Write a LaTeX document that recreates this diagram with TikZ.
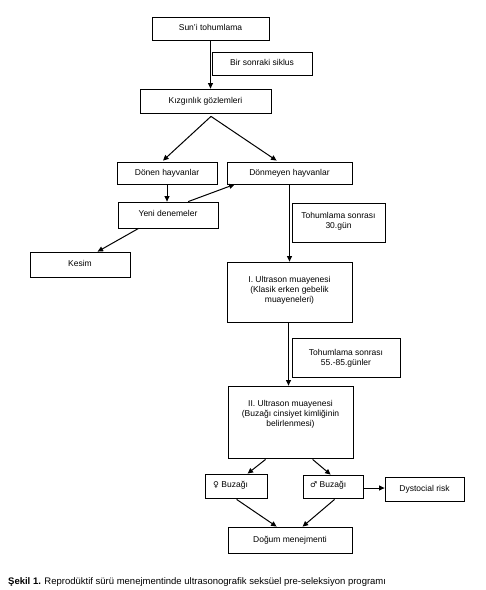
\documentclass[tikz,border=0pt]{standalone}
\usepackage{fontspec}
\setmainfont{Liberation Sans}
\newfontfamily\symfont{DejaVu Sans}
\usetikzlibrary{arrows.meta,calc}
\begin{document}
\begin{tikzpicture}[x=1pt,y=-1pt,
  box/.style={draw=black,line width=0.8pt,inner sep=0pt,align=center,font=\fontsize{8.5}{10}\selectfont},
  txt/.style={inner sep=0pt,align=center,font=\fontsize{8.5}{10}\selectfont},
  arr/.style={line width=1pt,-{Triangle[length=5.5pt,width=5pt]}}]
\fill[white] (0,0) rectangle (486,590);
\useasboundingbox (0,0) rectangle (486,590);
% boxes
\node[box,minimum width=117pt,minimum height=23pt] (sun) at (210.5,28.5) {\raisebox{2pt}{Sun'i tohumlama}};
\node[box,minimum width=100pt,minimum height=23pt] (bir) at (262,63.5) {\raisebox{1.5pt}{Bir sonraki siklus}};
\node[box,minimum width=131pt,minimum height=24pt] (kiz) at (205.5,101) {\raisebox{1.5pt}{Kızgınlık gözlemleri}};
\node[box,minimum width=100pt,minimum height=22pt] (donen) at (167,173) {\raisebox{1pt}{Dönen hayvanlar}};
\node[box,minimum width=125pt,minimum height=22pt] (donmeyen) at (289.5,173) {\raisebox{1pt}{Dönmeyen hayvanlar}};
\node[box,minimum width=100pt,minimum height=26pt] (yeni) at (168,215) {\raisebox{3pt}{Yeni denemeler}};
\node[box,minimum width=100pt,minimum height=25pt] (kesim) at (80,264.5) {\raisebox{2pt}{Kesim}};
\node[box,minimum width=93pt,minimum height=39pt] (t30) at (338.5,222.5) {};
\node[txt] (t30t) at (338.5,221) {Tohumlama sonrası\\30.gün};
\node[box,minimum width=125pt,minimum height=60pt] (us1) at (289.5,292) {};
\node[txt] (us1t) at (289.5,290) {I. Ultrason muayenesi\\(Klasik erken gebelik\\muayeneleri)};
\node[box,minimum width=108pt,minimum height=39pt] (t55) at (346,357.5) {};
\node[txt] (t55t) at (346,358) {Tohumlama sonrası\\55.-85.günler};
\node[box,minimum width=125pt,minimum height=72pt] (us2) at (290.5,422) {};
\node[txt] (us2t) at (290.5,414) {II. Ultrason muayenesi\\(Buzağı cinsiyet kimliğinin\\belirlenmesi)};
\node[box,minimum width=62pt,minimum height=24pt] (fem) at (236,486) {};
\node[txt,anchor=west] (femt) at (213,485.5) {{\symfont\fontsize{8}{10}\selectfont ♀} Buzağı};
\node[box,minimum width=60pt,minimum height=23pt] (male) at (333,486.5) {};
\node[txt,anchor=west] (malet) at (310,485.5) {{\symfont\fontsize{8}{10}\selectfont ♂} Buzağı};
\node[box,minimum width=79pt,minimum height=24pt] (dys) at (424.5,489) {\raisebox{2pt}{Dystocial risk}};
\node[box,minimum width=124pt,minimum height=26pt] (dogum) at (290,540) {\raisebox{2pt}{Doğum menejmenti}};
% caption
\node[inner sep=0pt,anchor=base west,font=\fontsize{9.5}{11}\selectfont] (cap) at (8,584) {\textbf{Şekil 1.} Reprodüktif sürü menejmentinde ultrasonografik seksüel pre-seleksiyon programı};
% connectors
\coordinate (kizb) at ($(kiz.south)+(5.5,3)$);
\draw[arr] (sun.south) -- (sun.south |- kiz.north);
\draw[arr] (kizb) -- ($(donen.north)+(-4,-1)$);
\draw[arr] (kizb) -- ($(donmeyen.north west)+(50,-1)$);
\draw[arr] (donen.south) -- (donen.south |- yeni.north);
\draw[arr] ($(yeni.north west)!0.7!(yeni.north east)$) -- ($(donmeyen.south west)+(8,0)$);
\draw[arr] ($(yeni.south west)+(21,0)$) -- ($(kesim.north west)+(68,0)$);
\draw[arr] (donmeyen.south) -- (donmeyen.south |- us1.north);
\draw[arr] ($(us1.south)+(-1,0)$) -- ($(us1.south |- us2.north)+(-1,0)$);
\draw[arr] ($(us2.south west)+(38,1)$) -- ($(fem.north west)+(43,0)$);
\draw[arr] ($(us2.south west)+(85,1)$) -- ($(male.north west)+(28,0)$);
\draw[arr] ($(male.east)+(0,1.5)$) -- ($(dys.west)+(0,-1)$);
\draw[arr] ($(fem.south west)+(32,1)$) -- ($(dogum.north west)+(49,0)$);
\draw[arr] ($(male.south west)+(32,1)$) -- ($(dogum.north west)+(75,0)$);
\end{tikzpicture}
\end{document}
